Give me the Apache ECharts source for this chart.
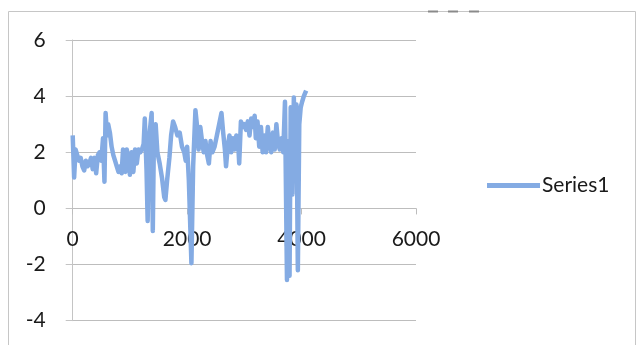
<!DOCTYPE html>
<html><head><meta charset="utf-8">
<script src="https://cdn.jsdelivr.net/npm/echarts@6/dist/echarts.min.js"></script>
<style>html,body{margin:0;padding:0;background:#fff}#c{width:639px;height:345px}</style>
</head><body><div id="c"></div>
<script>
const seriesName = 'Series1';
const xValues = [0,25,50,80,110,140,170,200,230,260,290,320,350,380,410,440,470,500,530,555,575,600,620,650,680,710,740,770,800,830,855,880,900,920,945,970,1000,1030,1060,1090,1120,1150,1180,1210,1240,1260,1290,1310,1335,1360,1380,1400,1420,1450,1480,1520,1560,1600,1620,1650,1690,1720,1755,1790,1830,1870,1910,1950,1975,2000,2030,2075,2105,2145,2170,2200,2230,2260,2290,2320,2350,2380,2410,2440,2480,2520,2560,2600,2630,2660,2680,2710,2740,2770,2800,2830,2860,2890,2910,2940,2970,3000,3030,3060,3090,3120,3150,3180,3200,3230,3260,3290,3320,3350,3380,3410,3440,3470,3500,3530,3560,3590,3620,3650,3680,3710,3745,3770,3790,3810,3840,3865,3890,3910,3935,3960,3985,4010,4040,4080];
const yValues = [2.6,1.1,2.1,1.9,1.7,1.8,1.5,1.35,1.7,1.5,1.6,1.8,1.4,1.8,1.25,1.9,2.0,1.7,2.5,0.95,3.4,2.6,3.0,2.7,2.2,1.9,1.7,1.5,1.3,1.5,1.25,2.1,2.0,1.3,2.1,1.8,1.2,2.0,1.3,2.1,1.6,2.1,2.0,2.1,2.3,3.2,1.4,-0.45,2.5,3.0,3.4,-0.8,2.6,3.0,2.0,1.6,1.1,0.4,0.3,1.0,1.8,2.6,3.1,2.9,2.6,2.7,2.2,2.0,1.7,2.2,1.0,-1.95,1.5,3.5,3.0,2.1,2.9,2.4,2.0,2.4,1.9,1.6,2.4,2.0,2.2,2.6,3.0,3.4,2.7,2.1,1.5,2.2,2.6,2.0,2.5,2.1,2.6,2.4,1.6,3.1,2.9,3.0,2.8,3.1,2.6,3.2,2.9,3.3,2.5,3.1,2.2,2.9,2.0,2.6,2.0,2.9,2.3,2.0,2.7,2.1,3.0,2.3,2.1,2.5,2.0,3.8,-2.55,2.4,-2.4,3.6,0.5,3.95,1.0,3.7,-2.2,3.0,3.6,3.8,4.0,4.2];
const xTicks = {min: 0, max: 6000, interval: 2000};
const yTicks = {min: -4, max: 6, interval: 2};

const data = xValues.map((x, i) => [x, yValues[i]]);
const font = 'Lato';
const gridTop = 40, gridBottom = 24.3, H = 345;
const gridHeight = H - gridTop - gridBottom;
// x axis crosses the y axis at value 0 (Excel style)
const zeroOffset = -((0 - yTicks.min) / (yTicks.max - yTicks.min)) * gridHeight;

const chart = echarts.init(document.getElementById('c'), null, {renderer: 'canvas'});
chart.setOption({
  animation: false,
  backgroundColor: '#ffffff',
  textStyle: {fontFamily: font},
  grid: {left: 72.7, right: 223, top: gridTop, bottom: gridBottom, containLabel: false},
  legend: {
    data: [{name: seriesName, icon: 'rect'}],
    left: 482, top: 170,
    itemWidth: 53, itemHeight: 5, itemGap: 4,
    textStyle: {fontFamily: font, fontSize: 21, color: '#1a1a1a', padding: [0,0,0,-3]}
  },
  xAxis: {
    type: 'value', min: xTicks.min, max: xTicks.max, interval: xTicks.interval,
    position: 'bottom', offset: zeroOffset,
    axisLine: {show: true, onZero: false, lineStyle: {color: '#bdbdbd', width: 1}},
    axisTick: {show: true, length: 6, lineStyle: {color: '#bdbdbd'}},
    axisLabel: {fontFamily: font, fontSize: 21, color: '#1a1a1a', margin: 20, formatter: v => String(v)},
    splitLine: {show: false}
  },
  yAxis: {
    type: 'value', min: yTicks.min, max: yTicks.max, interval: yTicks.interval,
    axisLine: {show: true, lineStyle: {color: '#c4c4c4', width: 1}},
    axisTick: {show: true, length: 7, lineStyle: {color: '#c4c4c4'}},
    axisLabel: {fontFamily: font, fontSize: 21, color: '#1a1a1a', margin: 27},
    splitLine: {show: true, lineStyle: {color: '#bdbdbd', width: 1}}
  },
  graphic: [
    {type: 'rect', shape: {x: 8.5, y: 11.5, width: 627, height: 400}, style: {fill: 'none', stroke: '#c6c6c6', lineWidth: 1}, silent: true},
    {type: 'line', shape: {x1: 428, y1: 11.5, x2: 438, y2: 11.5}, style: {stroke: '#8a8a8a', lineWidth: 2}},
    {type: 'line', shape: {x1: 448, y1: 11.5, x2: 458, y2: 11.5}, style: {stroke: '#8a8a8a', lineWidth: 2}},
    {type: 'line', shape: {x1: 469, y1: 11.5, x2: 479, y2: 11.5}, style: {stroke: '#8a8a8a', lineWidth: 2}}
  ],
  series: [{
    name: seriesName, type: 'line', data: data,
    symbol: 'none', showSymbol: false,
    lineStyle: {color: '#84abe3', width: 4.5, join: 'round'},
    itemStyle: {color: '#84abe3'}
  }]
});
</script></body></html>
